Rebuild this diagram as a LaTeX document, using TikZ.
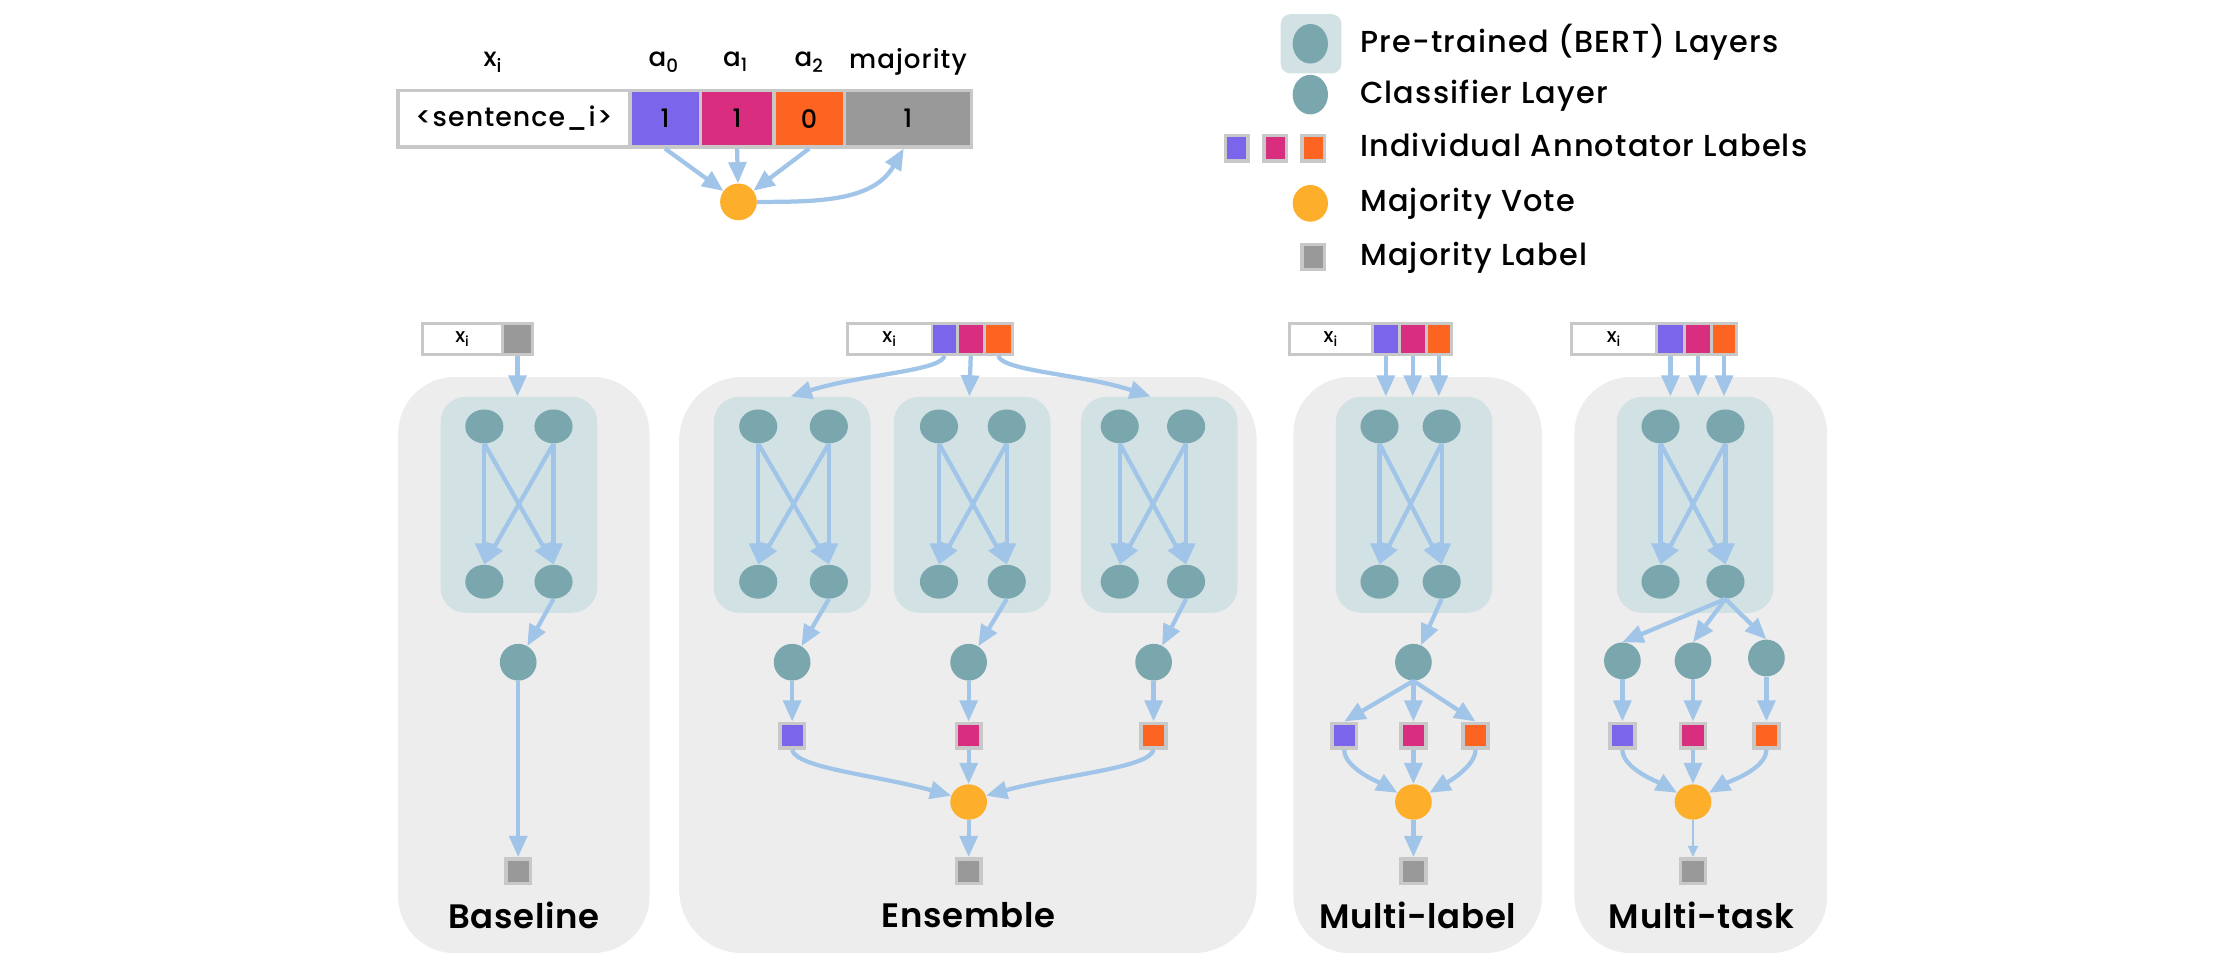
\documentclass[tikz,border=0pt]{standalone}
\usepackage{fontspec}
\setmainfont{Poppins}
\newfontfamily\medfont{Poppins Medium}[LetterSpace=4]
\newfontfamily\semifont{Poppins SemiBold}[LetterSpace=2]
\usetikzlibrary{arrows.meta,shapes.geometric,calc}
\definecolor{panelgray}{HTML}{EDEDED}
\definecolor{bertfill}{HTML}{D2E1E4}
\definecolor{nodeteal}{HTML}{7AA6AE}
\definecolor{arrowblue}{HTML}{A0C5E8}
\definecolor{apurple}{HTML}{7B66EB}
\definecolor{amagenta}{HTML}{D92D7F}
\definecolor{aorange}{HTML}{FE6421}
\definecolor{mgray}{HTML}{999999}
\definecolor{bordgray}{HTML}{C8C8C8}
\definecolor{votecol}{HTML}{FDAE2A}
\tikzset{
  panel/.style={rectangle, fill=panelgray, rounded corners=40pt, minimum height=408pt, inner sep=0},
  bertbox/.style={rectangle, fill=bertfill, rounded corners=18pt, minimum width=111pt, minimum height=153pt, inner sep=0},
  neuron/.style={ellipse, fill=nodeteal, minimum width=27pt, minimum height=24pt, inner sep=0},
  clf/.style={ellipse, fill=nodeteal, minimum width=26pt, minimum height=26pt, inner sep=0},
  votenode/.style={ellipse, fill=votecol, minimum width=26pt, minimum height=25pt, inner sep=0},
  labsq/.style={rectangle, draw=bordgray, line width=2.5pt, minimum width=17.5pt, minimum height=17.5pt, inner sep=0},
  cell/.style={rectangle, draw=bordgray, line width=2.5pt, inner sep=0, minimum height=40pt, font=\medfont\fontsize{18}{20}\selectfont},
  scell/.style={rectangle, draw=bordgray, line width=2pt, inner sep=0, minimum height=22pt, font=\medfont\fontsize{14}{15}\selectfont},
  arr/.style={draw=arrowblue, line width=3pt, -{Triangle[width=12.5pt,length=15pt]}},
  thinarr/.style={draw=arrowblue, line width=1.5pt, -{Triangle[width=7pt,length=8pt]}},
  toplab/.style={font=\medfont\fontsize{18.5}{20}\selectfont, inner sep=0},
  legtext/.style={font=\medfont\fontsize{21.5}{23}\selectfont, anchor=west, inner sep=0, text height=16pt, text depth=4pt},
  title/.style={font=\semifont\fontsize{24}{26}\selectfont, inner sep=0}
}
\newcommand{\bertnet}[4]{%
  \node[bertbox] (#1box) at (#2,357.5) {};
  \node[neuron] (#1tl) at (#3,302) {};
  \node[neuron] (#1tr) at (#4,302) {};
  \node[neuron] (#1bl) at (#3,412) {};
  \node[neuron] (#1br) at (#4,412) {};
  \draw[arr] (#1tl.south) -- (#1bl.north);
  \draw[arr] (#1tl.south) -- (#1br.north);
  \draw[arr] (#1tr.south) -- (#1bl.north);
  \draw[arr] (#1tr.south) -- (#1br.north);
}
\begin{document}
\begin{tikzpicture}[x=1pt,y=-1pt]
\useasboundingbox (0,0) rectangle (1568,687);

% ---------- top example ----------
\node[toplab] (lx) at (349,44) {x\textsubscript{i}};
\node[toplab] (la0) at (470,44) {a\textsubscript{0}};
\node[toplab] (la1) at (521,44) {a\textsubscript{1}};
\node[toplab] (la2) at (573,44) {a\textsubscript{2}};
\node[toplab] (lmaj) at (643,44) {majority};
\node[cell, fill=white, minimum width=164pt, font=\medfont\fontsize{19}{20}\selectfont] (cs) at (364,84) {<sentence\_i>};
\node[cell, fill=apurple, minimum width=50pt] (c0) at (471,84) {1};
\node[cell, fill=amagenta, minimum width=52pt] (c1) at (522,84) {1};
\node[cell, fill=aorange, minimum width=50pt] (c2) at (573,84) {0};
\node[cell, fill=mgray, minimum width=90pt] (cm) at (643,84) {1};
\node[votenode, minimum height=26pt] (tv) at (523,143) {};
\draw[arr] (c0.south) -- (tv);
\draw[arr] (c1.south) -- (tv);
\draw[arr] (c2.south) -- (tv);
\draw[arr] (tv.east) to[out=0,in=-120] ($(cm.south)+(-3,0)$);

% ---------- legend ----------
\node[rectangle, fill=bertfill, rounded corners=7pt, minimum width=43pt, minimum height=42pt] (lgb) at (928.5,31) {};
\node[ellipse, fill=nodeteal, minimum width=25pt, minimum height=28pt, inner sep=0] (lgn) at (928,31) {};
\node[legtext] (lt1) at (963,31) {Pre-trained (BERT) Layers};
\node[ellipse, fill=nodeteal, minimum width=25pt, minimum height=28pt, inner sep=0] (lgc) at (928,67) {};
\node[legtext] (lt2) at (963,67) {Classifier Layer};
\node[labsq, fill=apurple, minimum width=16pt, minimum height=18pt] (lgs1) at (876,105) {};
\node[labsq, fill=amagenta, minimum width=16pt, minimum height=18pt] (lgs2) at (903,105) {};
\node[labsq, fill=aorange, minimum width=16pt, minimum height=18pt] (lgs3) at (930,105) {};
\node[legtext] (lt3) at (963,105) {Individual Annotator Labels};
\node[ellipse, fill=votecol, minimum width=25pt, minimum height=26pt, inner sep=0] (lgv) at (928,144) {};
\node[legtext] (lt4) at (963,144) {Majority Vote};
\node[labsq, fill=mgray, minimum width=16pt, minimum height=18pt] (lgm) at (930,182) {};
\node[legtext] (lt5) at (963,182) {Majority Label};

% ---------- panels ----------
\node[panel, minimum width=178pt] (p1) at (371,471) {};
\node[panel, minimum width=409pt, rounded corners=45pt] (p2) at (685.5,471) {};
\node[panel, minimum width=176pt] (p3) at (1004,471) {};
\node[panel, minimum width=179pt] (p4) at (1204.5,471) {};

% ---------- Baseline ----------
\node[scell, fill=white, minimum width=57pt] (bx) at (327.5,240) {x\textsubscript{i}};
\node[scell, fill=mgray, minimum width=21pt] (bg) at (366.5,240) {};
\bertnet{b}{367.5}{343}{392}
\node[clf] (bc) at (367,469) {};
\node[labsq, fill=mgray] (bm) at (367,617) {};
\node[title] (bt) at (371,648) {Baseline};
\draw[arr] (bg.south) -- (bg.south |- bbox.north);
\draw[arr] (bbr.south) -- (bc);
\draw[arr] (bc) -- (bm);

% ---------- Ensemble ----------
\node[scell, fill=white, minimum width=60pt] (ex) at (630,240) {x\textsubscript{i}};
\node[scell, fill=apurple, minimum width=18pt] (ep) at (669,240) {};
\node[scell, fill=amagenta, minimum width=19pt] (em) at (687.5,240) {};
\node[scell, fill=aorange, minimum width=20pt] (eo) at (707,240) {};
\bertnet{ea}{561}{537}{587}
\bertnet{eb}{688.5}{665}{713}
\bertnet{ec}{821}{793}{840}
\node[clf] (ec1) at (561,469) {};
\node[clf] (ec2) at (686,469) {};
\node[clf] (ec3) at (817,469) {};
\node[labsq, fill=apurple] (es1) at (561,521) {};
\node[labsq, fill=amagenta] (es2) at (686,521) {};
\node[labsq, fill=aorange] (es3) at (817,521) {};
\node[votenode] (ev) at (686,568) {};
\node[labsq, fill=mgray] (emj) at (686,617) {};
\node[title] (et) at (686,648) {Ensemble};
\draw[arr] (ep.south) .. controls ($(ep.south)+(-3,11)$) and ($(eabox.north)+(50,-16)$) .. ($(eabox.north)+(-1,0)$);
\draw[arr] (em.south) -- ($(em.south |- ebbox.north)+(-1,0)$);
\draw[arr] (eo.south) .. controls ($(eo.south)+(3,11)$) and ($(ecbox.north)+(-55,-16)$) .. ($(ecbox.north)+(-6,0)$);
\draw[arr] (eabr.south) -- (ec1);
\draw[arr] (ebbr.south) -- (ec2);
\draw[arr] (ecbr.south) -- (ec3);
\draw[arr] (ec1) -- (es1);
\draw[arr] (ec2) -- (es2);
\draw[arr] (ec3) -- (es3);
\draw[arr] (es1.south) .. controls ($(es1.south)+(3,13)$) and ($(ev.160)+(-55,-15)$) .. (ev.160);
\draw[arr] (es2) -- (ev);
\draw[arr] (es3.south) .. controls ($(es3.south)+(-3,13)$) and ($(ev.20)+(55,-15)$) .. (ev.20);
\draw[arr] (ev) -- (emj);

% ---------- Multi-label ----------
\node[scell, fill=white, minimum width=59pt] (mx) at (942.5,240) {x\textsubscript{i}};
\node[scell, fill=apurple, minimum width=19pt] (mp) at (981.5,240) {};
\node[scell, fill=amagenta, minimum width=19pt] (mm) at (1000.5,240) {};
\node[scell, fill=aorange, minimum width=18pt] (mo) at (1019,240) {};
\bertnet{m}{1001.5}{977}{1021}
\node[clf] (mc) at (1001,469) {};
\node[labsq, fill=apurple] (ms1) at (952,521) {};
\node[labsq, fill=amagenta] (ms2) at (1001,521) {};
\node[labsq, fill=aorange] (ms3) at (1045,521) {};
\node[votenode] (mv) at (1001,568) {};
\node[labsq, fill=mgray] (mmj) at (1001,617) {};
\node[title] (mt) at (1004,648) {Multi-label};
\draw[arr] (mp.south) -- (mp.south |- mbox.north);
\draw[arr] (mm.south) -- (mm.south |- mbox.north);
\draw[arr] (mo.south) -- (mo.south |- mbox.north);
\draw[arr] (mbr.south) -- (mc);
\draw[arr] (mc.south) -- (ms1.north);
\draw[arr] (mc.south) -- (ms2.north);
\draw[arr] (mc.south) -- (ms3.north);
\draw[arr] (ms1.south) to[out=-90,in=150,looseness=0.7] (mv);
\draw[arr] (ms2) -- (mv);
\draw[arr] (ms3.south) to[out=-90,in=30,looseness=0.7] (mv);
\draw[arr] (mv) -- (mmj);

% ---------- Multi-task ----------
\node[scell, fill=white, minimum width=60pt] (tx) at (1143,240) {x\textsubscript{i}};
\node[scell, fill=apurple, minimum width=20pt] (tp) at (1183,240) {};
\node[scell, fill=amagenta, minimum width=19pt] (tm) at (1202.5,240) {};
\node[scell, fill=aorange, minimum width=18pt] (to) at (1221,240) {};
\bertnet{t}{1200.5}{1176}{1222}
\node[clf] (tc1) at (1149,468) {};
\node[clf] (tc2) at (1199,468) {};
\node[clf] (tc3) at (1251,466) {};
\node[labsq, fill=apurple] (ts1) at (1149,521) {};
\node[labsq, fill=amagenta] (ts2) at (1199,521) {};
\node[labsq, fill=aorange] (ts3) at (1251,521) {};
\node[votenode] (tv2) at (1199,568) {};
\node[labsq, fill=mgray] (tmj) at (1199,617) {};
\node[title] (ttl) at (1205,648) {Multi-task};
\draw[arr] (tp.south) -- (tp.south |- tbox.north);
\draw[arr] (tm.south) -- (tm.south |- tbox.north);
\draw[arr] (to.south) -- (to.south |- tbox.north);
\draw[arr] (tbr.south) -- (tc1.north);
\draw[arr] (tbr.south) -- (tc2.north);
\draw[arr] (tbr.south) -- (tc3.north);
\draw[arr] (tc1) -- (ts1);
\draw[arr] (tc2) -- (ts2);
\draw[arr] (tc3) -- (ts3);
\draw[arr] (ts1.south) to[out=-90,in=150,looseness=0.7] (tv2);
\draw[arr] (ts2) -- (tv2);
\draw[arr] (ts3.south) to[out=-90,in=30,looseness=0.7] (tv2);
\draw[thinarr] (tv2) -- (tmj);
\end{tikzpicture}
\end{document}
